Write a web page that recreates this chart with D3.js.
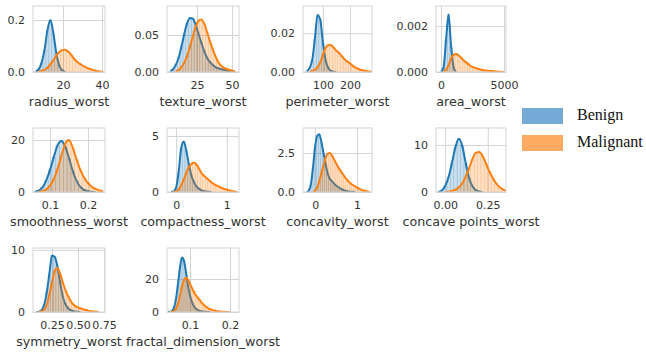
<!DOCTYPE html>
<html>
<head>
<meta charset="utf-8">
<script src="https://cdn.jsdelivr.net/npm/d3@7/dist/d3.min.js"></script>
<style>
  html, body { margin: 0; padding: 0; background: #fff; }
  svg { display: block; }
</style>
</head>
<body>
<div id="chart"></div>
<script>
/* ---- Feature names (x labels) ---- */
const featureNames = [
  'radius_worst', 'texture_worst', 'perimeter_worst', 'area_worst',
  'smoothness_worst', 'compactness_worst', 'concavity_worst', 'concave points_worst',
  'symmetry_worst', 'fractal_dimension_worst'
];
const classNames = ['Benign', 'Malignant'];

/* ---- Density curves (null = outside the curve) ---- */
const radiusX = [6, 7.5, 9, 10.5, 12, 13.5, 15, 16.5, 18, 19.5, 21, 22.5, 24, 25.5, 27, 28.5, 30, 31.5, 33, 34.5, 36, 37.5, 39, 40.5];
const radiusBenign = [0.002, 0.01, 0.035, 0.085, 0.16, 0.2, 0.15, 0.075, 0.025, 0.007, 0.001, null, null, null, null, null, null, null, null, null, null, null, null, null];
const radiusMalignant = [null, 0.001, 0.004, 0.009, 0.016, 0.03, 0.045, 0.062, 0.076, 0.084, 0.086, 0.08, 0.068, 0.052, 0.04, 0.032, 0.025, 0.019, 0.014, 0.01, 0.006, 0.004, 0.002, 0.001];

const textureX = [6, 8, 10, 12, 14, 16, 18, 20, 22, 24, 26, 28, 30, 32, 34, 36, 38, 40, 42, 44, 46, 48, 50, 52];
const textureBenign = [0.001, 0.004, 0.01, 0.02, 0.035, 0.052, 0.066, 0.073, 0.072, 0.064, 0.052, 0.04, 0.029, 0.02, 0.014, 0.01, 0.007, 0.005, 0.004, 0.003, 0.002, 0.0015, 0.001, 0];
const textureMalignant = [null, null, 0.001, 0.003, 0.007, 0.013, 0.022, 0.034, 0.048, 0.061, 0.069, 0.071, 0.066, 0.055, 0.043, 0.032, 0.022, 0.014, 0.009, 0.006, 0.004, 0.003, 0.002, 0.001];

const perimeterX = [40, 50, 60, 70, 80, 90, 100, 110, 120, 130, 140, 150, 160, 170, 180, 190, 200, 210, 220, 230, 240, 250, 260, 270, 280];
const perimeterBenign = [0.0005, 0.002, 0.006, 0.017, 0.0295, 0.027, 0.015, 0.006, 0.002, 0.0006, 0.0002, 0, null, null, null, null, null, null, null, null, null, null, null, null, null];
const perimeterMalignant = [null, 0, 0.0005, 0.0012, 0.0025, 0.005, 0.009, 0.0125, 0.014, 0.0138, 0.0125, 0.011, 0.0098, 0.0082, 0.0066, 0.0054, 0.0045, 0.0033, 0.0024, 0.0017, 0.0012, 0.0008, 0.0005, 0.0003, 0.0001];

const areaX = [-200, 0, 200, 400, 600, 800, 1000, 1200, 1400, 1600, 1800, 2000, 2200, 2400, 2600, 2800, 3000, 3200, 3400, 3600, 3800, 4000, 4200, 4400, 4600, 4800, 5000];
const areaBenign = [null, 0, 0.0002, 0.0014, 0.0025, 0.0011, 0.0002, 0, null, null, null, null, null, null, null, null, null, null, null, null, null, null, null, null, null, null, null];
const areaMalignant = [null, null, 0.00002, 0.0001, 0.0003, 0.0006, 0.00075, 0.00078, 0.00072, 0.00062, 0.0005, 0.00042, 0.00033, 0.00025, 0.0002, 0.00016, 0.00013, 0.0001, 0.00008, 0.00006, 0.00005, 0.00004, 0.00003, 0.00002, 0.00001, 0.000005, 0];

const smoothnessX = [0.06, 0.07, 0.08, 0.09, 0.1, 0.11, 0.12, 0.13, 0.14, 0.15, 0.16, 0.17, 0.18, 0.19, 0.2, 0.21, 0.22, 0.23, 0.24];
const smoothnessBenign = [0.1, 0.5, 1.8, 4.5, 8.5, 13.5, 18, 19.6, 17.5, 13, 8, 4.3, 2, 0.8, 0.3, 0.1, 0, null, null];
const smoothnessMalignant = [null, 0.05, 0.3, 1, 2.5, 5, 9, 14, 18.5, 20, 17, 12.5, 8.5, 5.5, 3.5, 2, 1.2, 0.6, 0.2];

const compactnessX = [-0.1, -0.05, 0, 0.05, 0.1, 0.15, 0.2, 0.25, 0.3, 0.35, 0.4, 0.45, 0.5, 0.55, 0.6, 0.65, 0.7, 0.75, 0.8, 0.85, 0.9, 0.95, 1, 1.05, 1.1, 1.15, 1.2];
const compactnessBenign = [0, 0.05, 0.4, 1.8, 3.9, 4.5, 3.7, 2.5, 1.5, 0.9, 0.5, 0.3, 0.15, 0.08, 0.04, 0.02, 0, null, null, null, null, null, null, null, null, null, null];
const compactnessMalignant = [null, 0, 0.05, 0.2, 0.6, 1.1, 1.7, 2.2, 2.5, 2.6, 2.45, 2.1, 1.7, 1.45, 1.25, 1.05, 0.85, 0.7, 0.58, 0.46, 0.36, 0.27, 0.2, 0.14, 0.09, 0.05, 0.02];

const concavityX = [-0.2, -0.15, -0.1, -0.05, 0, 0.05, 0.1, 0.15, 0.2, 0.25, 0.3, 0.35, 0.4, 0.45, 0.5, 0.55, 0.6, 0.65, 0.7, 0.75, 0.8, 0.85, 0.9, 0.95, 1, 1.05, 1.1, 1.15, 1.2, 1.25, 1.3];
const concavityBenign = [0, 0.1, 0.5, 1.6, 2.9, 3.6, 3.7, 3.2, 2.5, 1.8, 1.2, 0.85, 0.7, 0.55, 0.42, 0.32, 0.23, 0.16, 0.1, 0.06, 0.035, 0.02, 0.01, 0, null, null, null, null, null, null, null];
const concavityMalignant = [null, null, null, 0, 0.1, 0.3, 0.7, 1.2, 1.7, 2.2, 2.45, 2.5, 2.35, 2.1, 1.85, 1.6, 1.4, 1.2, 1, 0.82, 0.68, 0.55, 0.45, 0.37, 0.3, 0.22, 0.15, 0.1, 0.06, 0.03, 0.01];

const concavePointsX = [-0.04, -0.02, 0, 0.02, 0.04, 0.06, 0.08, 0.1, 0.12, 0.14, 0.16, 0.18, 0.2, 0.22, 0.24, 0.26, 0.28, 0.3, 0.32, 0.34, 0.36];
const concavePointsBenign = [0, 0.3, 1.3, 3.2, 6.2, 9.5, 11.3, 9.8, 6.2, 3, 1.2, 0.4, 0.1, 0, null, null, null, null, null, null, null];
const concavePointsMalignant = [null, null, 0, 0.05, 0.2, 0.5, 1, 1.8, 3.2, 5, 7, 8.3, 8.5, 7.6, 6, 4.3, 2.9, 1.8, 1, 0.5, 0.25];

const symmetryX = [0.1, 0.125, 0.15, 0.175, 0.2, 0.225, 0.25, 0.275, 0.3, 0.325, 0.35, 0.375, 0.4, 0.425, 0.45, 0.475, 0.5, 0.525, 0.55, 0.575, 0.6, 0.625, 0.65, 0.675, 0.7];
const symmetryBenign = [0, 0.05, 0.3, 1.2, 3.2, 6.2, 9.1, 8.9, 7.5, 5, 2.8, 1.4, 0.7, 0.35, 0.15, 0.06, 0.02, 0, null, null, null, null, null, null, null];
const symmetryMalignant = [null, 0, 0.1, 0.4, 1.2, 2.8, 4.8, 6.6, 7.1, 6.3, 5, 3.7, 2.7, 1.9, 1.3, 0.95, 0.75, 0.6, 0.45, 0.32, 0.22, 0.14, 0.08, 0.04, 0.01];

const fractalX = [0.045, 0.05, 0.055, 0.06, 0.065, 0.07, 0.075, 0.08, 0.085, 0.09, 0.095, 0.1, 0.105, 0.11, 0.115, 0.12, 0.125, 0.13, 0.135, 0.14, 0.145, 0.15, 0.155, 0.16, 0.165, 0.17, 0.175, 0.18, 0.185, 0.19, 0.195, 0.2];
const fractalBenign = [0, 0.1, 0.6, 2.5, 8, 17, 27, 33, 31, 24, 16, 10, 6, 3.5, 2, 1.2, 0.7, 0.4, 0.2, 0.1, 0.05, 0, null, null, null, null, null, null, null, null, null, null];
const fractalMalignant = [null, 0, 0.1, 0.6, 2, 5, 10, 15.5, 19.5, 20.8, 19.5, 17, 14.5, 12, 10, 8.5, 7, 5.5, 4.2, 3.2, 2.4, 1.8, 1.3, 0.9, 0.6, 0.4, 0.25, 0.15, 0.08, 0.04, 0.02, 0.01];

/* ---- Ticks ---- */
const xTickValues = [[20, 40], [25, 50], [100, 200], [0, 5000], [0.1, 0.2], [0, 1], [0, 1], [0, 0.25], [0.25, 0.5, 0.75], [0.1, 0.2]];
const yTickValues = [[0, 0.2], [0, 0.05], [0, 0.02], [0, 0.002], [0, 20], [0, 5], [0, 2.5], [0, 10], [0, 10], [0, 20]];
const xTickFormats = ['d', 'd', 'd', 'd', '.1f', 'd', 'd', '.2f', '.2f', '.1f'];
const yTickFormats = ['.1f', '.2f', '.2f', '.3f', 'd', 'd', '.1f', 'd', 'd', 'd'];

const seriesX = [radiusX, textureX, perimeterX, areaX, smoothnessX, compactnessX, concavityX, concavePointsX, symmetryX, fractalX];
const seriesBenign = [radiusBenign, textureBenign, perimeterBenign, areaBenign, smoothnessBenign, compactnessBenign, concavityBenign, concavePointsBenign, symmetryBenign, fractalBenign];
const seriesMalignant = [radiusMalignant, textureMalignant, perimeterMalignant, areaMalignant, smoothnessMalignant, compactnessMalignant, concavityMalignant, concavePointsMalignant, symmetryMalignant, fractalMalignant];

/* ---- Axis extents (value space) ---- */
const xDomains = [[4.6, 41.5], [3.6, 55], [26, 282], [-400, 5160], [0.055, 0.245], [-0.18, 1.24], [-0.29, 1.36], [-0.054, 0.357], [0.067, 0.76], [0.0425, 0.2225]];
const yMaxes = [0.254, 0.0892, 0.0341, 0.00287, 24.6, 5.71, 4.1, 13.6, 10.3, 38.8];

/* ---- Layout ---- */
const W = 646, H = 353;
const COLS = [[33, 105], [167, 239], [303, 372], [436, 506]];
const ROWS = [[6, 72], [128, 192], [248, 312]];
const LINE_COLORS = ['#1f77b4', '#ff7f0e'];
const LEGEND_COLORS = ['#76aad6', '#fdaa62'];
const GRID = '#d4d4d4';
const TEXT = '#333';
const FONT = "'DejaVu Sans', sans-serif";

const svg = d3.select('#chart').append('svg')
  .attr('width', W).attr('height', H)
  .style('background', '#fff');

const defs = svg.append('defs');

featureNames.forEach((name, i) => {
  const col = i % 4, row = Math.floor(i / 4);
  const [x0, x1] = COLS[col];
  const [y0, y1] = ROWS[row];

  const x = d3.scaleLinear().domain(xDomains[i]).range([x0, x1]);
  const y = d3.scaleLinear().domain([0, yMaxes[i]]).range([y1, y0]);

  const g = svg.append('g').attr('class', 'panel');

  // gridlines
  g.append('g')
    .attr('transform', `translate(0,${y1})`)
    .call(d3.axisBottom(x).tickValues(xTickValues[i]).tickSize(-(y1 - y0)).tickFormat(''))
    .call(a => a.select('.domain').remove())
    .selectAll('line').attr('stroke', GRID).attr('stroke-width', 1);
  g.append('g')
    .attr('transform', `translate(${x0},0)`)
    .call(d3.axisLeft(y).tickValues(yTickValues[i]).tickSize(-(x1 - x0)).tickFormat(''))
    .call(a => a.select('.domain').remove())
    .selectAll('line').attr('stroke', GRID).attr('stroke-width', 1);

  // clip to the axes box
  defs.append('clipPath').attr('id', 'clip' + i)
    .append('rect').attr('x', x0).attr('y', y0).attr('width', x1 - x0).attr('height', y1 - y0);
  const plot = g.append('g').attr('clip-path', `url(#clip${i})`);

  const xs = seriesX[i];
  const step = xs[1] - xs[0];
  const barW = x(xs[0] + step) - x(xs[0]);

  [seriesBenign[i], seriesMalignant[i]].forEach((vals, k) => {
    const pts = xs.map((v, j) => [v, vals[j]]);

    // histogram-like bars
    plot.append('g').selectAll('rect')
      .data(pts.filter(d => d[1] != null && d[1] > 0))
      .join('rect')
      .attr('x', d => x(d[0]) - barW / 2)
      .attr('y', d => y(d[1]))
      .attr('width', barW)
      .attr('height', d => y(0) - y(d[1]))
      .attr('fill', LINE_COLORS[k])
      .attr('fill-opacity', 0.24)
      .attr('stroke', LINE_COLORS[k])
      .attr('stroke-opacity', 0.22)
      .attr('stroke-width', 0.5);

    // kde line
    plot.append('path')
      .datum(pts)
      .attr('fill', 'none')
      .attr('stroke', LINE_COLORS[k])
      .attr('stroke-width', 2)
      .attr('stroke-linejoin', 'round')
      .attr('d', d3.line()
        .defined(d => d[1] != null)
        .x(d => x(d[0]))
        .y(d => y(d[1]))
        .curve(d3.curveMonotoneX));
  });

  // spines
  g.append('rect')
    .attr('x', x0).attr('y', y0)
    .attr('width', x1 - x0).attr('height', y1 - y0)
    .attr('fill', 'none').attr('stroke', GRID).attr('stroke-width', 1);

  // tick labels
  const xa = g.append('g')
    .attr('transform', `translate(0,${y1})`)
    .call(d3.axisBottom(x).tickValues(xTickValues[i]).tickSize(0).tickPadding(9)
      .tickFormat(d3.format(xTickFormats[i])));
  const ya = g.append('g')
    .attr('transform', `translate(${x0},0)`)
    .call(d3.axisLeft(y).tickValues(yTickValues[i]).tickSize(0).tickPadding(8)
      .tickFormat(d3.format(yTickFormats[i])));
  [xa, ya].forEach(a => {
    a.select('.domain').remove();
    a.attr('font-family', FONT).attr('font-size', 11);
    a.selectAll('text').attr('fill', TEXT);
  });

  // x label
  g.append('text')
    .attr('x', (x0 + x1) / 2)
    .attr('y', y1 + 34)
    .attr('text-anchor', 'middle')
    .attr('font-family', FONT)
    .attr('font-size', 12.7)
    .attr('fill', TEXT)
    .text(name);
});

/* ---- Legend ---- */
const legend = svg.append('g').attr('class', 'legend');
classNames.forEach((name, k) => {
  const ly = [108, 135][k];
  legend.append('rect')
    .attr('x', 522).attr('y', ly)
    .attr('width', 41).attr('height', 16)
    .attr('fill', LEGEND_COLORS[k]);
  legend.append('text')
    .attr('x', 577).attr('y', ly + 12)
    .attr('font-family', "'Liberation Serif', 'Times New Roman', serif")
    .attr('font-size', 16)
    .attr('fill', '#111')
    .text(name);
});
</script>
</body>
</html>
